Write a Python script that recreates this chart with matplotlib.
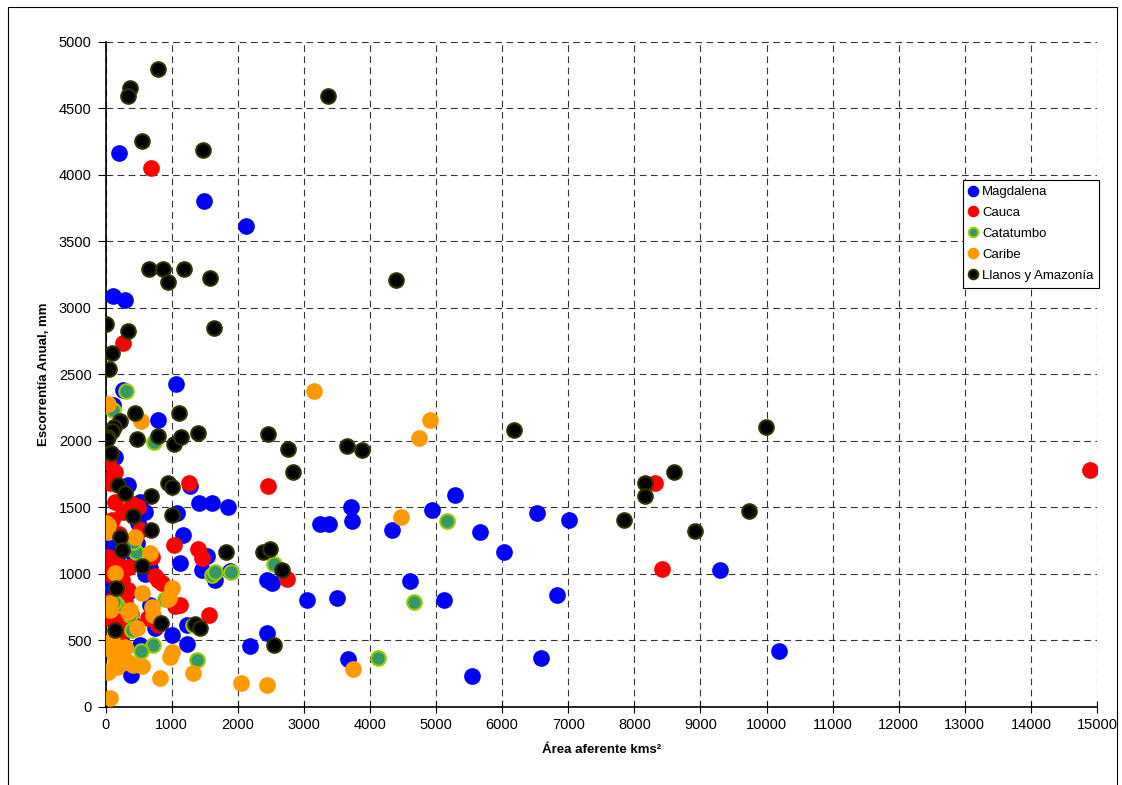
import matplotlib
matplotlib.use('Agg')
from matplotlib import pyplot as plt
from matplotlib.patches import Rectangle

plt.rcParams['font.family'] = ['Liberation Sans', 'DejaVu Sans']

### datos por cuenca (area km2, escorrentia mm)
magdalena_x = [200, 1490, 2120, 115, 290, 270, 1065, 115, 795, 1280, 1420, 1615, 1850, 520, 600,
               115, 1075, 3245, 3385, 1165, 1125, 1530, 1455, 1655, 1880, 2435, 2515, 3045, 3495,
               2435, 2185, 1235, 1000, 1225, 380, 3715, 3730, 4330, 4945, 5290, 5665, 6025, 6525,
               7010, 4605, 5115, 6825, 3665, 5545, 6590, 9300, 10190, 345, 495, 115, 15, 270, 470,
               15, 345, 672, 672, 520, 748, 142, 60, 180, 300, 230, 420, 90, 600, 300, 420]
magdalena_y = [4160, 3800, 3615, 3090, 3055, 2380, 2425, 2270, 2155, 1660, 1535, 1530, 1500, 1540, 1465,
               1880, 1455, 1375, 1375, 1290, 1080, 1130, 1030, 955, 1020, 950, 930, 800, 815,
               555, 455, 470, 540, 615, 240, 1500, 1395, 1330, 1475, 1590, 1315, 1160, 1455,
               1400, 945, 805, 840, 360, 230, 365, 1025, 420, 1667, 1380, 1230, 1140, 1030, 1230,
               900, 865, 1040, 765, 465, 590, 1880, 1000, 1100, 1200, 500, 620, 700, 1000, 880, 1150]

cauca_x = [685, 260, 1260, 2455, 8310, 8420, 14900, 1040, 1405, 1455, 745, 795, 1050, 1565, 520,
           410, 268, 40, 142, 2740, 1125, 67, 142, 395, 495, 117, 192, 697, 849, 268, 343, 142,
           293, 41, 117, 218, 646, 797, 20, 41, 142, 41, 180, 250, 300, 200, 100, 350, 100, 230,
           60, 380]
cauca_y = [4050, 2735, 1685, 1660, 1685, 1035, 1780, 1215, 1185, 1115, 980, 950, 760, 690, 1330,
           1517, 1466, 1128, 1090, 960, 765, 1680, 1542, 1525, 1504, 1090, 1066, 1128, 928, 853, 878, 765,
           790, 665, 652, 690, 665, 614, 1910, 1840, 1767, 1705, 1000, 950, 600, 1300, 1400, 1050, 800, 560,
           1000, 700]

catatumbo_x = [310, 110, 730, 460, 410, 1605, 1655, 1895, 2550, 900, 370, 400, 720, 540, 1380,
               5170, 4665, 4115, 170, 1330, 130]
catatumbo_y = [2375, 2230, 1990, 1160, 1240, 990, 1015, 1015, 1070, 810, 690, 577, 460, 415, 350,
               1395, 790, 365, 765, 615, 790]

caribe_x = [40, 530, 3160, 4910, 4740, 4465, 3750, 40, 40, 445, 672, 142, 546, 1000, 964, 697, 722,
            67, 67, 370, 470, 1000, 975, 825, 1320, 2050, 2435, 67, 41, 546, 0, 949, 343, 41, 218,
            142, 41, 343, 420, 293, 20, 180, 240, 100, 250, 300, 110]
caribe_y = [2275, 2150, 2370, 2155, 2020, 1425, 285, 1366, 1316, 1278, 1158, 1003, 857, 890, 815, 752, 690,
            778, 727, 727, 590, 414, 376, 215, 255, 180, 165, 68, 271, 306, 1379, 810, 714, 464, 439,
            364, 263, 338, 314, 439, 440, 300, 400, 500, 330, 450, 420]

llanos_x = [790, 370, 340, 3365, 555, 1470, 660, 870, 940, 1185, 1580, 4400, 1640, 5, 345, 90, 45,
            445, 1105, 220, 125, 90, 40, 15, 475, 790, 1040, 1140, 1405, 2455, 2760, 2840, 75, 3650,
            3880, 6175, 8160, 8160, 8600, 7845, 8920, 9735, 9990, 940, 1005, 185, 295, 685, 1000, 420,
            685, 220, 245, 545, 155, 140, 840, 1820, 2375, 2490, 2665, 1350, 1430, 2550]
llanos_y = [4795, 4650, 4590, 4595, 4255, 4185, 3290, 3290, 3195, 3290, 3225, 3210, 2845, 2875, 2825, 2660, 2540,
            2205, 2210, 2145, 2100, 2070, 2030, 2010, 2015, 2035, 1975, 2025, 2055, 2050, 1935, 1765, 1910, 1960,
            1930, 2080, 1680, 1585, 1765, 1405, 1320, 1470, 2105, 1680, 1655, 1665, 1610, 1585, 1440, 1430,
            1330, 1275, 1180, 1060, 895, 575, 630, 1160, 1165, 1185, 1025, 625, 590, 460]

series = [
    ('Magdalena', magdalena_x, magdalena_y, '#0000FF', '#0000FF'),
    ('Cauca', cauca_x, cauca_y, '#FF0000', '#FF0000'),
    ('Catatumbo', catatumbo_x, catatumbo_y, '#339966', '#99CC00'),
    ('Caribe', caribe_x, caribe_y, '#FF9900', '#FF9900'),
    ('Llanos y Amazonía', llanos_x, llanos_y, '#000000', '#333300'),
]

fig = plt.figure(figsize=(11.22, 7.85), dpi=100)
ax = fig.add_axes([0.0941, 0.0998, 0.8836, 0.8471])

for name, xs, ys, fc, ec in series:
    ax.plot(xs, ys, 'o', ls='none', ms=10.5, mfc=fc, mec=ec, mew=1.5, label=name, zorder=3)

ax.set_xlim(0, 15000)
ax.set_ylim(0, 5000)
ax.set_xticks(range(0, 15001, 1000))
ax.set_yticks(range(0, 5001, 500))
ax.grid(True, color='black', ls=(0, (6, 4)), lw=0.8, alpha=0.8)
ax.set_axisbelow(True)
ax.spines['top'].set_visible(False)
ax.spines['right'].set_visible(False)
ax.spines['left'].set_linewidth(1.2)
ax.spines['bottom'].set_linewidth(1.2)
ax.tick_params(axis='x', direction='inout', length=8, labelsize=10.5, pad=4)
ax.tick_params(axis='y', direction='out', length=6, labelsize=10.5, pad=4)

ax.set_xlabel('Área aferente kms²', fontsize=9.5, fontweight='bold', labelpad=9)
ax.set_ylabel('Escorrentía Anual, mm', fontsize=9.5, fontweight='bold', labelpad=6)

leg = ax.legend(loc='upper left', bbox_to_anchor=(0.8648, 0.792), borderaxespad=0,
                fontsize=9.5, markerscale=0.65,
                frameon=True, fancybox=False, framealpha=1, edgecolor='black',
                handlelength=0.7, handletextpad=0.3, borderpad=0.45, labelspacing=0.66)
leg.get_frame().set_linewidth(0.8)

### marco exterior
fig.patches.append(Rectangle((8 / 1122, -0.01), 1109 / 1122, 1 - 7 / 785 + 0.01,
                             transform=fig.transFigure, fill=False, ec='black', lw=0.8))

fig.savefig('out.png', dpi=100)
